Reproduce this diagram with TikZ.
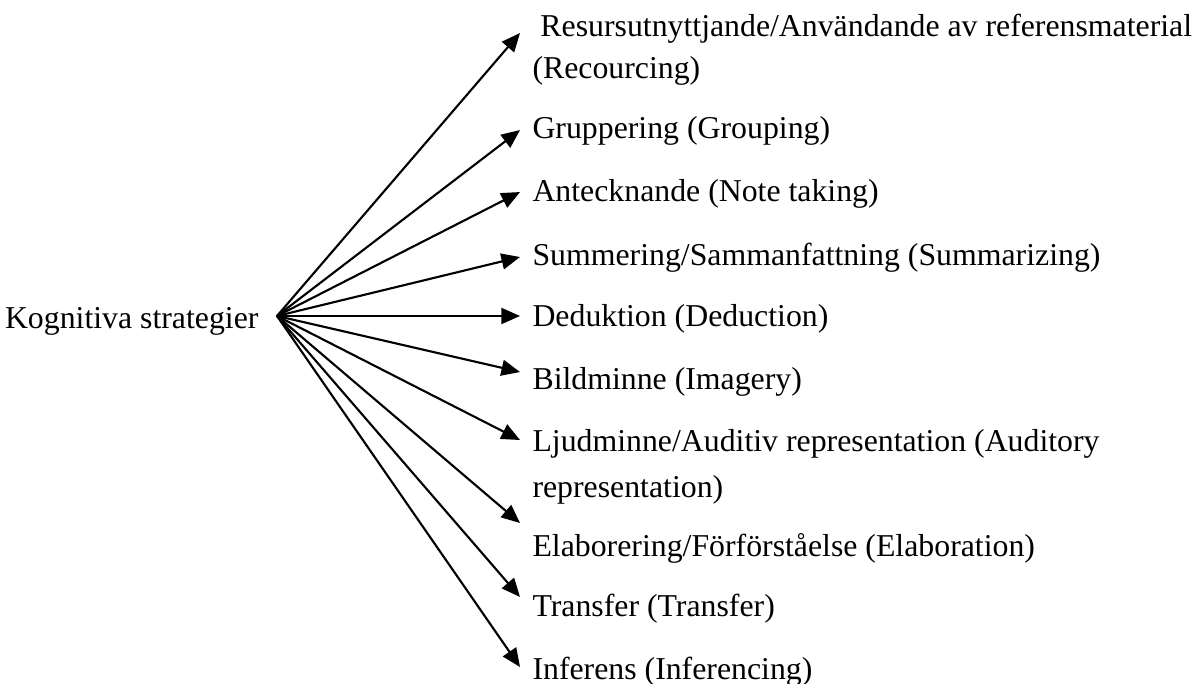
\documentclass[tikz,border=0pt]{standalone}
\usepackage{fontspec}
\setmainfont{Liberation Serif}
\usetikzlibrary{arrows.meta}

\begin{document}
\begin{tikzpicture}[>={Triangle[length=7pt, width=6pt]},
  strategy/.style={anchor=base west, inner sep=0pt, align=left, font=\fontsize{12}{17}\selectfont}]
  \useasboundingbox (0,0) rectangle (15.889,9.059);
  % Root
  \node[anchor=base east, inner sep=0pt, font=\fontsize{12}{17}\selectfont] (kog) at (3.435,4.708) {Kognitiva strategier};
  \coordinate (hub) at (3.674,4.868);
  % Arrow tips
  \coordinate (resurs) at (6.897,8.621);
  \coordinate (grupp)  at (6.897,7.334);
  \coordinate (anteck) at (6.897,6.512);
  \coordinate (summ)   at (6.897,5.650);
  \coordinate (deduk)  at (6.897,4.868);
  \coordinate (bild)   at (6.897,4.125);
  \coordinate (ljud)   at (6.897,3.223);
  \coordinate (elab)   at (6.897,2.122);
  \coordinate (trans)  at (6.897,1.141);
  \coordinate (infer)  at (6.897,0.212);
  \foreach \tip in {resurs,grupp,anteck,summ,deduk,bild,ljud,elab,trans,infer}
    \draw[->, line width=0.8pt] (hub) -- (\tip);
  % Labels (base is the last line)
  \node[strategy] (resurs-lbl) at (7.056,8.024) {\ Resursutnyttjande/Användande av referensmaterial\\[-1.5pt](Recourcing)};
  \node[strategy] (grupp-lbl)  at (7.056,7.228) {Gruppering (Grouping)};
  \node[strategy] (anteck-lbl) at (7.056,6.393) {Antecknande (Note taking)};
  \node[strategy] (summ-lbl)   at (7.056,5.544) {Summering/Sammanfattning (Summarizing)};
  \node[strategy] (deduk-lbl)  at (7.056,4.735) {Deduktion (Deduction)};
  \node[strategy] (bild-lbl)   at (7.056,3.899) {Bildminne (Imagery)};
  \node[strategy] (ljud-lbl)   at (7.056,2.467) {Ljudminne/Auditiv representation (Auditory\\representation)};
  \node[strategy] (elab-lbl)   at (7.056,1.684) {Elaborering/Förförståelse (Elaboration)};
  \node[strategy] (trans-lbl)  at (7.056,0.888) {Transfer (Transfer)};
  \node[strategy] (infer-lbl)  at (7.056,0.053) {Inferens (Inferencing)};
\end{tikzpicture}
\end{document}
